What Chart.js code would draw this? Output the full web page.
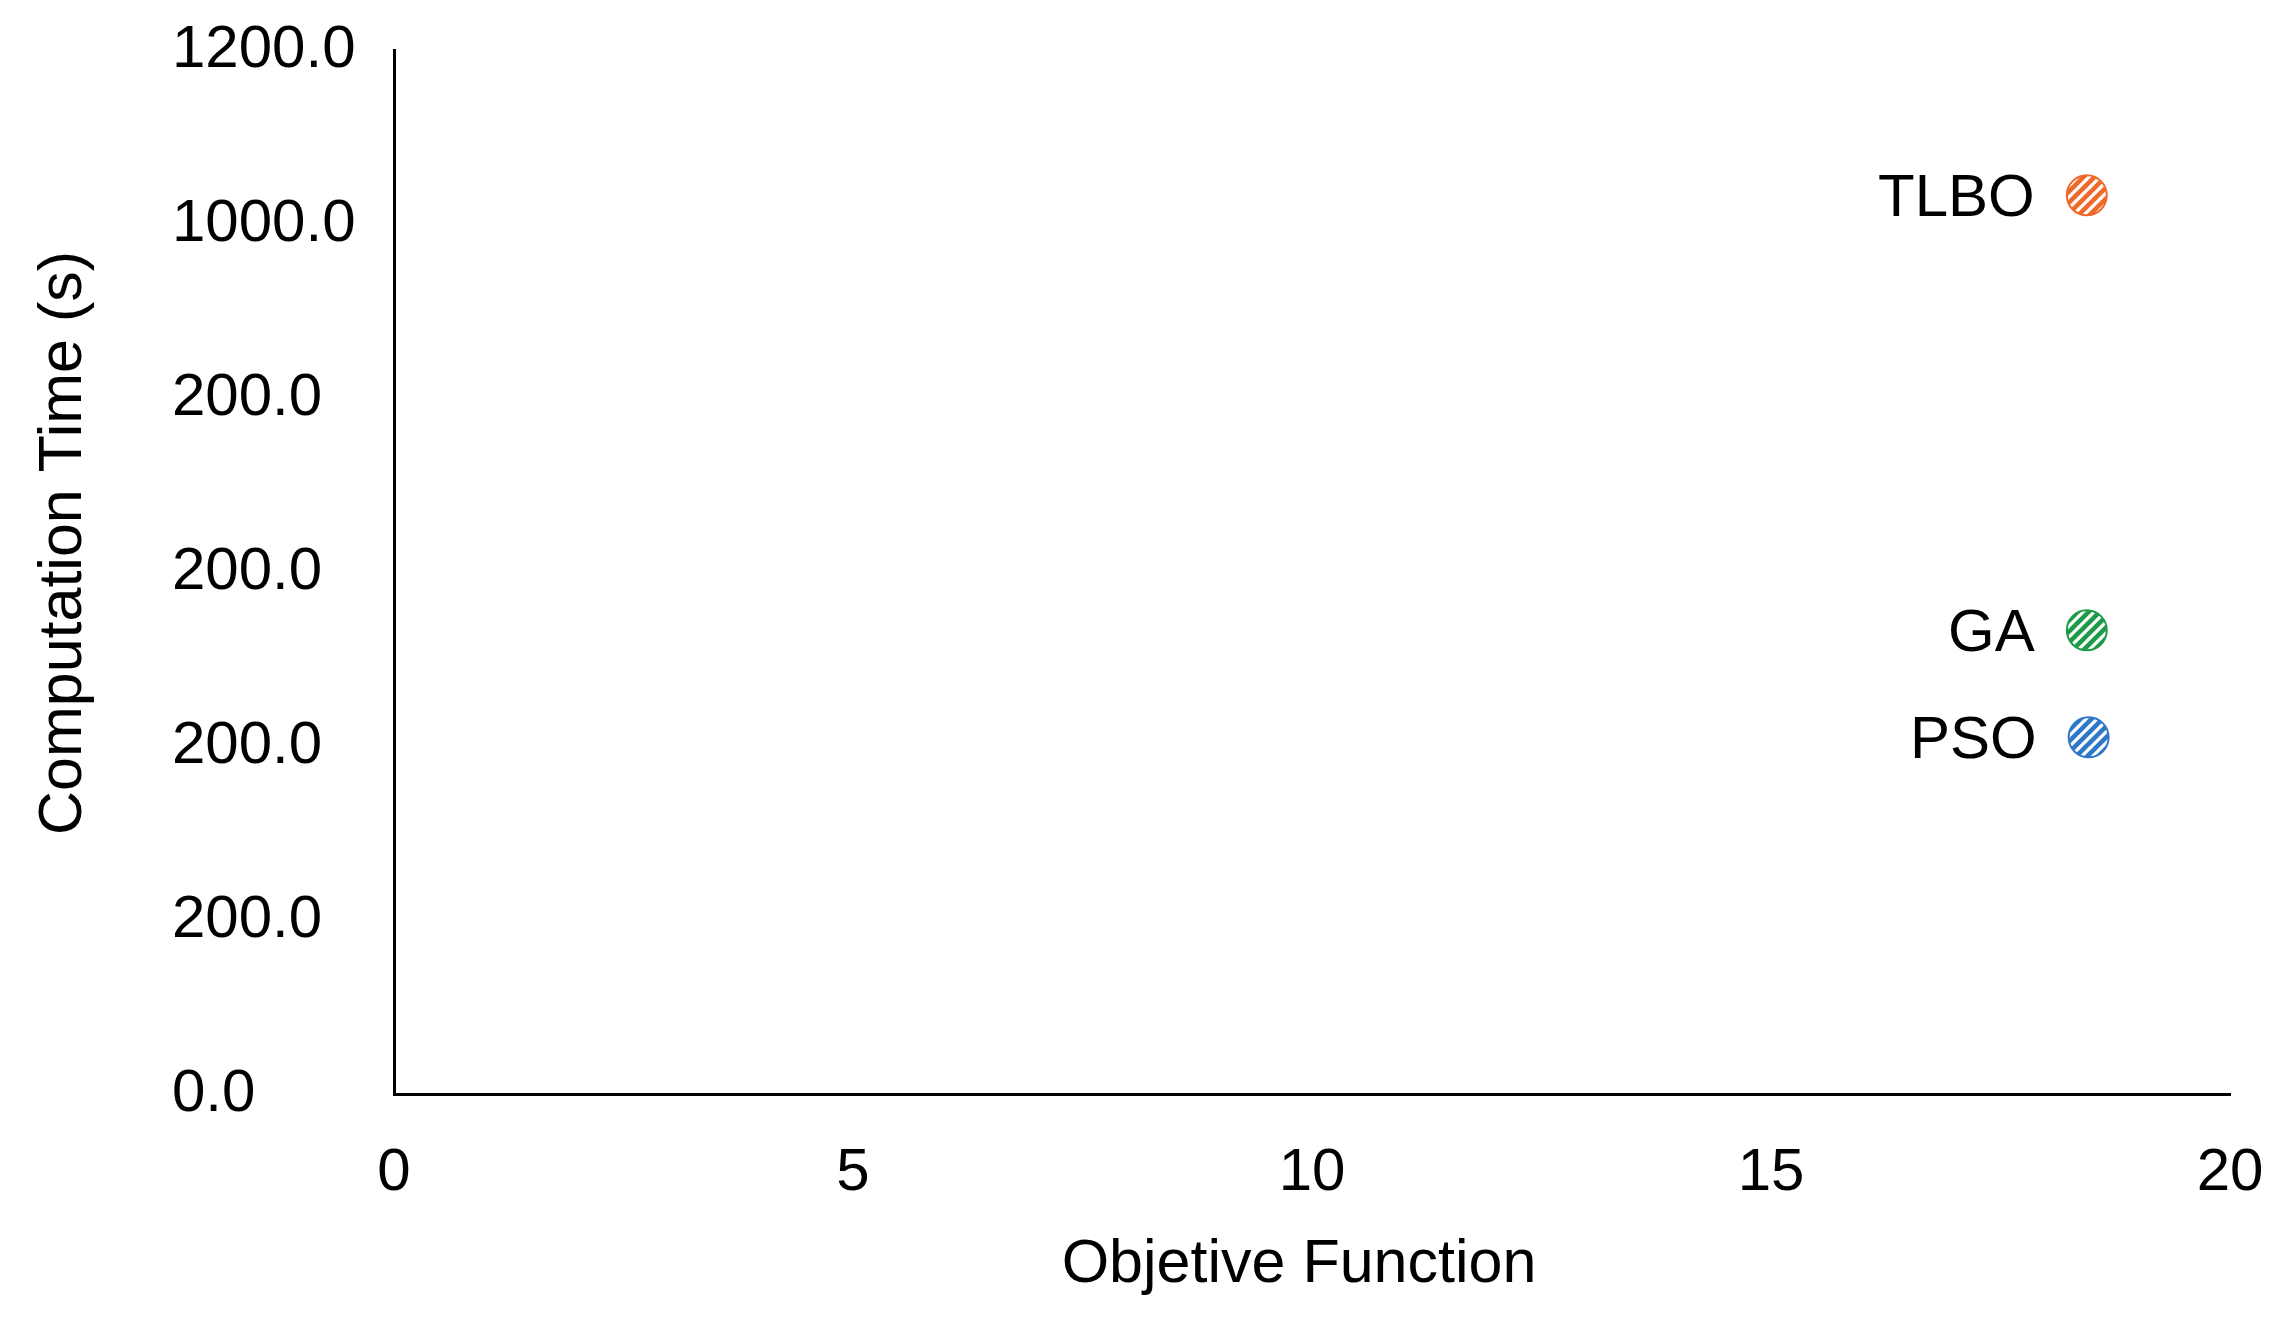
<!DOCTYPE html>
<html>
<head>
<meta charset="utf-8">
<script src="https://cdn.jsdelivr.net/npm/chart.js@4/dist/chart.umd.min.js"></script>
<style>
html,body{margin:0;padding:0;background:#fff;}
#wrap{width:2291px;height:1324px;position:relative;}
</style>
</head>
<body>
<div id="wrap"><canvas id="c" width="2291" height="1324"></canvas></div>
<script>
// ---- data ----
const methods = ['TLBO', 'GA', 'PSO'];
const objectiveValues = [18.44, 18.44, 18.46];
const computationTimes = [1033, 533, 410];
const methodColors = ['#EE6A2A', '#1E9B48', '#2F78C8'];
const xTickValues = [0, 5, 10, 15, 20];
const yTickValues = [0, 200, 400, 600, 800, 1000, 1200];
const yTickLabels = ['0.0', '200.0', '200.0', '200.0', '200.0', '1000.0', '1200.0'];
const xTitle = 'Objetive Function';
const yTitle = 'Computation Time (s)';

const FONT = '"Liberation Sans", Arial, sans-serif';

function stripePattern(color) {
  const s = 11;
  const cv = document.createElement('canvas');
  cv.width = s; cv.height = s;
  const g = cv.getContext('2d');
  g.fillStyle = color;
  g.fillRect(0, 0, s, s);
  g.strokeStyle = '#ffffff';
  g.lineWidth = 3.2;
  g.beginPath();
  g.moveTo(-1, s + 1); g.lineTo(s + 1, -1);
  g.moveTo(-1, 1); g.lineTo(1, -1);
  g.moveTo(s - 1, s + 1); g.lineTo(s + 1, s - 1);
  g.stroke();
  return document.createElement('canvas').getContext('2d').createPattern(cv, 'repeat');
}

const points = methods.map((m, i) => ({x: objectiveValues[i], y: computationTimes[i]}));

const labelPlugin = {
  id: 'pointLabels',
  afterDatasetsDraw(chart) {
    const ctx = chart.ctx;
    const meta = chart.getDatasetMeta(0);
    ctx.save();
    ctx.font = '60px ' + FONT;
    ctx.fillStyle = '#000';
    ctx.textAlign = 'right';
    ctx.textBaseline = 'middle';
    meta.data.forEach((el, i) => {
      ctx.fillText(methods[i], el.x - 52, el.y + 4);
    });
    ctx.restore();
  }
};

const titlesPlugin = {
  id: 'axisTitles',
  afterDraw(chart) {
    const ctx = chart.ctx;
    ctx.save();
    ctx.font = '61px ' + FONT;
    ctx.fillStyle = '#000';
    ctx.textAlign = 'center';
    ctx.textBaseline = 'middle';
    const xs = chart.scales.x;
    ctx.fillText(xTitle, (xs.left + xs.right) / 2 - 13, xs.bottom - 59);
    ctx.translate(64, 543);
    ctx.rotate(-Math.PI / 2);
    ctx.fillText(yTitle, 0, 0);
    ctx.restore();
  }
};

new Chart(document.getElementById('c'), {
  type: 'scatter',
  data: {
    datasets: [{
      data: points,
      pointRadius: 20,
      pointHoverRadius: 20,
      pointStyle: 'circle',
      backgroundColor: methodColors.map(stripePattern),
      borderColor: methodColors,
      borderWidth: 2
    }]
  },
  options: {
    responsive: false,
    animation: false,
    events: [],
    layout: {padding: {left: 172, right: 61, top: 50, bottom: 0}},
    plugins: {legend: {display: false}, tooltip: {enabled: false}},
    scales: {
      x: {
        type: 'linear',
        min: 0, max: 20,
        afterBuildTicks(s) { s.ticks = xTickValues.map(v => ({value: v})); },
        afterFit(s) { s.height = 230; s.paddingLeft = 0; s.paddingRight = 0; },
        grid: {display: false, drawTicks: false},
        border: {display: true, color: '#000', width: 3},
        ticks: {
          color: '#000',
          font: {family: FONT, size: 60},
          padding: 43,
          maxRotation: 0,
          callback: v => String(v)
        },
        title: {display: false}
      },
      y: {
        type: 'linear',
        min: 0, max: 1200,
        afterBuildTicks(s) { s.ticks = yTickValues.map(v => ({value: v})); },
        afterFit(s) { s.width = 222; s.paddingTop = 0; s.paddingBottom = 0; },
        grid: {display: false, drawTicks: false},
        border: {display: true, color: '#000', width: 3},
        ticks: {
          color: '#000',
          font: {family: FONT, size: 60},
          crossAlign: 'far',
          callback: (v) => { const i = yTickValues.indexOf(v); return i >= 0 ? yTickLabels[i] : ''; }
        },
        title: {display: false}
      }
    }
  },
  plugins: [labelPlugin, titlesPlugin]
});
</script>
</body>
</html>
